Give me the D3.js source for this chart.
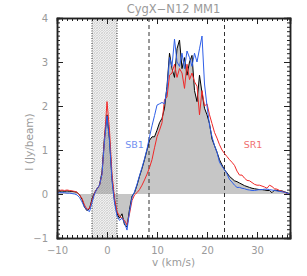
<!DOCTYPE html>
<html lang="en">
<head>
<meta charset="UTF-8">
<title>CygX-N12 MM1</title>
<script src="https://d3js.org/d3.v7.min.js"></script>
<style>
  body { margin: 0; background: #fff; }
  text { font-family: "DejaVu Sans", sans-serif; fill: #9a9a9a; }
</style>
</head>
<body>
<div id="chart"></div>
<script>
// velocity grid (km/s)
var velocity = d3.range(-10, 36.51, 0.5);

// main spectrum (black, filled gray)
var mainSpec = [0.03,0.06,0.07,0.06,0.07,0.06,0.06,0.05,0.04,-0.02,
  -0.12,-0.3,-0.38,-0.33,-0.12,0.03,0.12,0.2,0.5,1.3,
  1.8,1.25,0.35,-0.15,-0.45,-0.55,-0.45,-0.7,-0.75,-0.35,
  -0.05,0.03,0.2,0.4,0.58,0.78,1.0,1.22,1.3,1.3,
  1.45,1.62,1.72,1.95,2.45,3.2,2.85,2.65,3.3,3.5,
  2.85,3.1,2.7,3.0,3.15,2.35,2.1,2.7,2.3,1.95,
  1.8,1.6,1.25,1.1,0.95,0.78,0.66,0.55,0.48,0.4,
  0.35,0.3,0.28,0.25,0.22,0.19,0.17,0.15,0.13,0.12,
  0.11,0.1,0.1,0.09,0.08,0.08,0.03,0.09,0.08,0.07,
  0.07,0.05,0.03,0.01];

// SB1 (blue)
var sb1 = [0.02,0.03,0.03,0.03,0.02,0.02,0.01,0.0,-0.02,-0.08,
  -0.18,-0.3,-0.36,-0.4,-0.2,0.0,0.12,0.2,0.45,1.2,
  1.77,1.2,0.3,-0.2,-0.5,-0.6,-0.55,-0.65,-0.82,-0.4,
  -0.08,0.05,0.22,0.42,0.6,0.8,1.02,1.3,1.55,1.78,
  2.02,2.05,2.08,2.05,2.4,3.1,2.9,3.52,3.0,2.9,
  3.2,2.85,3.25,3.1,2.9,3.2,3.0,3.3,3.59,2.5,
  2.0,1.57,1.3,1.1,0.95,0.72,0.63,0.55,0.46,0.33,
  0.27,0.2,0.15,0.15,0.13,0.12,0.1,0.09,0.08,0.08,
  0.09,0.1,0.1,0.11,0.11,0.1,0.09,0.08,0.07,0.06,
  0.05,0.04,0.02,0.0];

// SR1 (red)
var sr1 = [0.05,0.08,0.09,0.08,0.09,0.08,0.07,0.06,0.04,-0.02,
  -0.1,-0.25,-0.35,-0.33,-0.15,0.02,0.12,0.2,0.45,1.25,
  2.1,1.45,0.45,-0.1,-0.4,-0.5,-0.55,-0.6,-0.7,-0.45,
  -0.15,-0.02,0.03,0.1,0.2,0.32,0.45,0.6,0.78,1.05,
  1.3,1.45,1.62,2.15,2.2,2.7,2.75,2.95,2.65,2.85,
  2.75,2.4,2.95,2.6,2.75,2.55,2.45,1.8,2.35,2.0,
  2.05,1.8,1.6,1.4,1.27,1.12,1.0,0.92,0.85,0.78,
  0.72,0.65,0.52,0.43,0.43,0.36,0.31,0.3,0.26,0.22,
  0.2,0.2,0.18,0.16,0.13,0.2,0.17,0.12,0.11,0.08,
  0.06,0.04,0.01,0.0];

var xTicks = [-10, 0, 10, 20, 30];
var yTicks = [-1, 0, 1, 2, 3, 4];
var hatchRange = [-3, 2];
var dashedLines = [8.4, 23.5];

var W = 307, H = 276;
var margin = {top: 18, right: 17, bottom: 38, left: 57};
var width = W - margin.left - margin.right,
    height = H - margin.top - margin.bottom;

var svg = d3.select("#chart").append("svg")
    .attr("width", W).attr("height", H);

// fine dotted cross-hatch
var defs = svg.append("defs");
var pat = defs.append("pattern")
    .attr("id", "hatch").attr("patternUnits", "userSpaceOnUse")
    .attr("width", 2.5).attr("height", 2.5);
pat.append("path").attr("d", "M0,2.5 L2.5,0").attr("stroke", "#777").attr("stroke-width", 0.35);
pat.append("path").attr("d", "M0,0 L2.5,2.5").attr("stroke", "#999").attr("stroke-width", 0.3);

var g = svg.append("g")
    .attr("transform", "translate(" + margin.left + "," + margin.top + ")");

var x = d3.scaleLinear().domain([-10, 36.6]).range([0, width]);
var y = d3.scaleLinear().domain([-1, 4]).range([height, 0]);

var pts = function(arr) { return velocity.map(function(v, i) { return [v, arr[i]]; }); };

// gray fill of main spectrum
g.append("path")
  .datum(pts(mainSpec))
  .attr("fill", "#c6c6c6")
  .attr("d", d3.area()
      .x(function(d) { return x(d[0]); })
      .y0(y(0))
      .y1(function(d) { return y(d[1]); }));

// hatched region
g.append("rect")
  .attr("x", x(hatchRange[0])).attr("y", 0)
  .attr("width", x(hatchRange[1]) - x(hatchRange[0]))
  .attr("height", height)
  .attr("fill", "url(#hatch)");
hatchRange.forEach(function(v) {
  g.append("line")
    .attr("x1", x(v)).attr("x2", x(v)).attr("y1", 0).attr("y2", height)
    .attr("stroke", "#333").attr("stroke-width", 1).attr("stroke-dasharray", "1,1.5");
});

dashedLines.forEach(function(v) {
  g.append("line")
    .attr("x1", x(v)).attr("x2", x(v)).attr("y1", 0).attr("y2", height)
    .attr("stroke", "#333").attr("stroke-width", 1).attr("stroke-dasharray", "4,3");
});

var line = d3.line()
    .x(function(d) { return x(d[0]); })
    .y(function(d) { return y(d[1]); });

[[mainSpec, "#000"], [sr1, "#f02828"], [sb1, "#2f5fe8"]].forEach(function(s) {
  g.append("path").datum(pts(s[0]))
    .attr("fill", "none").attr("stroke", s[1]).attr("stroke-width", 1)
    .attr("d", line);
});

// axes box with inward ticks
var minorX = d3.range(-10, 37, 1), minorY = d3.range(-1, 4.001, 0.1);
var fmt = function(d) { return d < 0 ? "\u2212" + Math.abs(d) : d; };

g.append("g").attr("transform", "translate(0," + height + ")")
  .call(d3.axisBottom(x).tickValues(xTicks).tickSize(-6).tickPadding(9).tickFormat(fmt));
g.append("g").call(d3.axisTop(x).tickValues(xTicks).tickSize(-6).tickFormat(""));
g.append("g")
  .call(d3.axisLeft(y).tickValues(yTicks).tickSize(-6).tickPadding(9).tickFormat(fmt));
g.append("g").attr("transform", "translate(" + width + ",0)")
  .call(d3.axisRight(y).tickValues(yTicks).tickSize(-6).tickFormat(""));

g.append("g").attr("transform", "translate(0," + height + ")")
  .call(d3.axisBottom(x).tickValues(minorX).tickSize(-3).tickFormat(""));
g.append("g").call(d3.axisTop(x).tickValues(minorX).tickSize(-3).tickFormat(""));
g.append("g").call(d3.axisLeft(y).tickValues(minorY).tickSize(-3).tickFormat(""));
g.append("g").attr("transform", "translate(" + width + ",0)")
  .call(d3.axisRight(y).tickValues(minorY).tickSize(-3).tickFormat(""));

g.selectAll(".domain").attr("stroke", "#222").attr("stroke-width", 1.5);
g.selectAll(".tick line").attr("stroke", "#222");
g.selectAll(".tick text").attr("font-size", 10).attr("fill", "#9a9a9a")
  .attr("font-family", "DejaVu Sans, sans-serif");

// labels
svg.append("text").attr("x", margin.left + width / 2).attr("y", 13)
  .attr("text-anchor", "middle").attr("font-size", 11.5).text("CygX\u2212N12  MM1");
svg.append("text").attr("x", margin.left + width / 2).attr("y", 266)
  .attr("text-anchor", "middle").attr("font-size", 10.5).text("v (km/s)");
svg.append("text").attr("transform", "translate(33,142) rotate(-90)")
  .attr("text-anchor", "middle").attr("font-size", 10.5).text("I (Jy/beam)");

g.append("text").attr("x", x(5.5)).attr("y", y(1.04))
  .attr("text-anchor", "middle").attr("font-size", 9.5).style("fill", "#7090f0").text("SB1");
g.append("text").attr("x", x(29.2)).attr("y", y(1.04))
  .attr("text-anchor", "middle").attr("font-size", 9.5).style("fill", "#f07070").text("SR1");
</script>
</body>
</html>
